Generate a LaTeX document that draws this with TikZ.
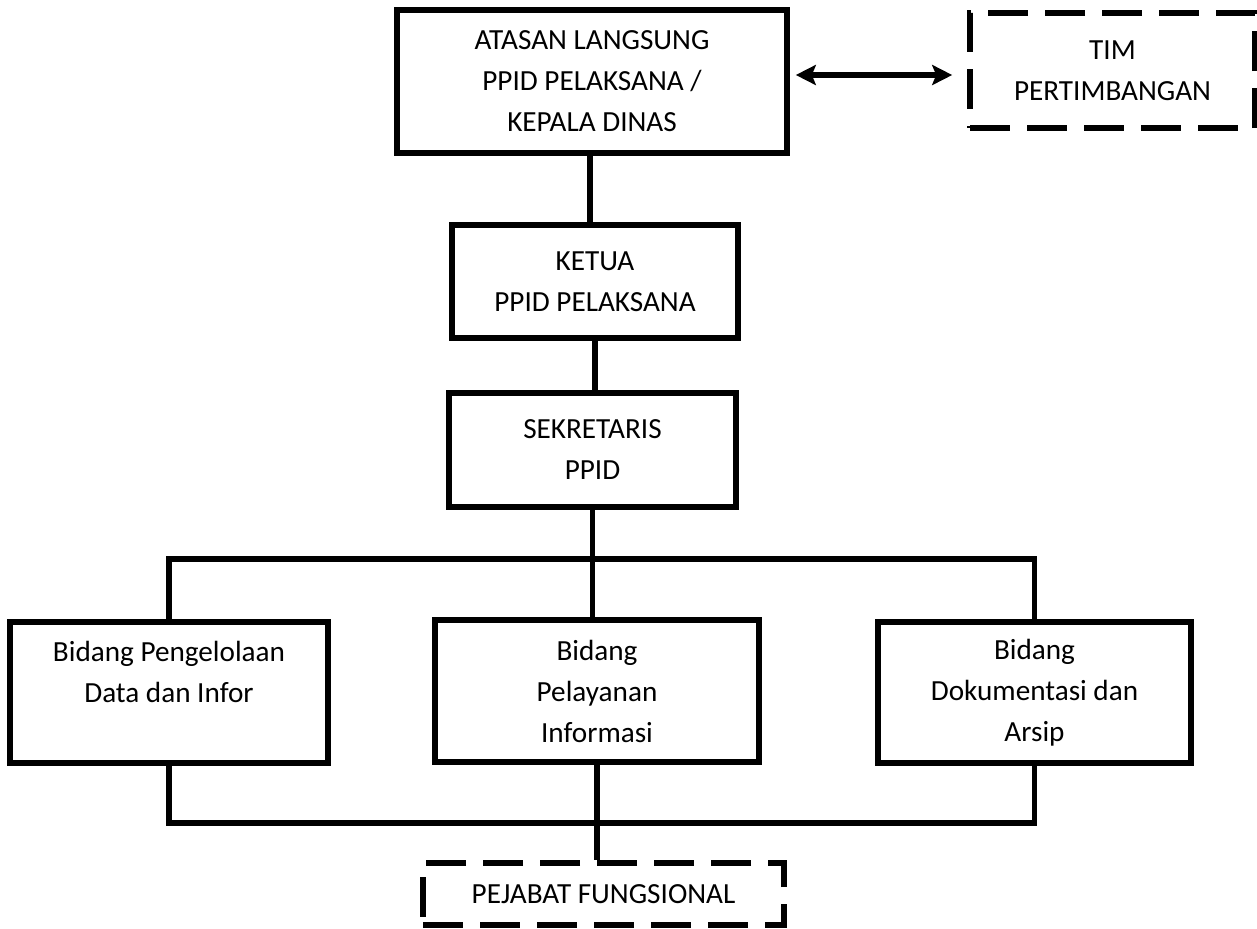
\documentclass[tikz,border=0pt]{standalone}
\usepackage{fontspec}
\setmainfont{Carlito}
\usetikzlibrary{arrows.meta,positioning}

\tikzset{
    kotak/.style={draw, line width=2.8pt, align=center, inner sep=0pt,
        font=\fontsize{14.6pt}{20.5pt}\selectfont},
    kotakputus/.style={kotak, dash pattern=on 20pt off 8.5pt},
    garis/.style={line width=2.8pt}
}

\begin{document}
\begin{tikzpicture}[x=0.5pt, y=-0.5pt]
    \useasboundingbox (0,0) rectangle (1257,928);

    \node[kotak, minimum width=195pt, minimum height=71.5pt] (atasan) at (592,81.5)
        {ATASAN LANGSUNG\\PPID PELAKSANA /\\KEPALA DINAS};
    \node[kotakputus, minimum width=142.5pt, minimum height=57.5pt] (tim) at (1112.5,70.5)
        {TIM\\PERTIMBANGAN};
    \node[kotak, minimum width=143pt, minimum height=56.5pt] (ketua) at (595,281.5)
        {KETUA\\PPID PELAKSANA};
    \node[kotak, minimum width=143.5pt, minimum height=57pt] (sekretaris) at (592.5,450)
        {SEKRETARIS\\PPID};
    \node[kotak, minimum width=159pt, minimum height=70.5pt] (pengelolaan) at (169,692.5)
        {Bidang Pengelolaan\\Data dan Infor\\~};
    \node[kotak, minimum width=162pt, minimum height=71pt] (pelayanan) at (597,691)
        {Bidang\\Pelayanan\\Informasi};
    \node[kotak, minimum width=156.5pt, minimum height=70.5pt] (dokumentasi) at (1034.5,692.5)
        {Bidang\\Dokumentasi dan\\Arsip};
    \node[kotakputus, minimum width=180.5pt, minimum height=31pt] (pejabat) at (603.5,894)
        {PEJABAT FUNGSIONAL};

    \coordinate (busatas) at (593,559);
    \coordinate (busbawah) at (600,823);

    % garis hubung
    \draw[garis, {Stealth[length=10pt,width=10pt,inset=2pt]}-{Stealth[length=10pt,width=10pt,inset=2pt]},
        shorten <=3pt, shorten >=7.5pt]
        ([yshift=3.25pt]atasan.east) -- ([yshift=3.25pt]atasan.east -| tim.west);
    \draw[garis] ([xshift=-2.5pt]ketua.north |- atasan.south) -- ([xshift=-2.5pt]ketua.north);
    \draw[garis] (ketua.south) -- (ketua.south |- sekretaris.north);
    \draw[garis] (sekretaris.south) -- (sekretaris.south |- pelayanan.north);
    \draw[garis] (pengelolaan.north) -- (pengelolaan.north |- busatas)
        -- (dokumentasi.north |- busatas) -- (dokumentasi.north);
    \draw[garis] (pengelolaan.south) -- (pengelolaan.south |- busbawah)
        -- (dokumentasi.south |- busbawah) -- (dokumentasi.south);
    \draw[garis] (pelayanan.south) -- (pelayanan.south |- pejabat.north);
\end{tikzpicture}
\end{document}
